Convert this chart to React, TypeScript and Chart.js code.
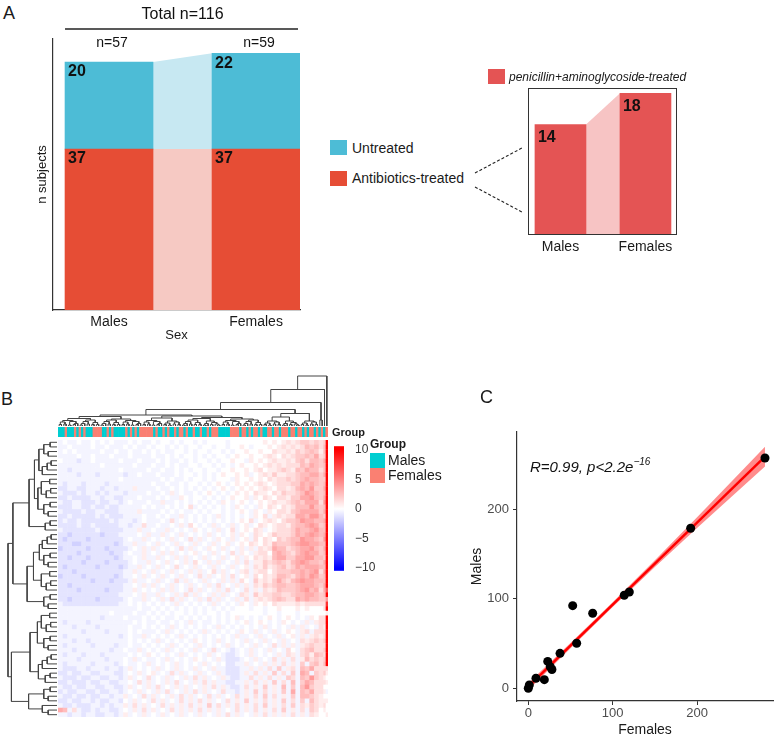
import React, { useEffect, useRef } from "react";
import { Chart, registerables } from "chart.js";
Chart.register(...registerables);

const FONT = "'Liberation Sans', Arial, Helvetica, sans-serif";
Chart.defaults.font.family = FONT;
Chart.defaults.color = "#1a1a1a";

/* ---------------- Panel A data ---------------- */
const sexes = ["Males", "Females"];
const untreated = [20, 22];
const antibioticsTreated = [37, 37];
const groupTotals = [57, 59];
const totalSubjects = 116;
const penicillinAminoglycoside = [14, 18];

/* ---------------- Panel C data ---------------- */
const femalesCounts = [0, 1.2, 9.1, 19, 23, 26, 28, 37.6, 52.6, 57.3, 76.3, 113.7, 119.7, 192.4, 280.5];
const malesCounts = [0, 3.7, 11.2, 9.6, 30, 24, 21, 39, 92.2, 50.2, 83.7, 103.8, 107.5, 178.6, 257];
const fitX = [0, 280.5];
const fitY = [1.8, 258.5];
const bandX = [0, 50, 100, 150, 200, 250, 280.5];
const bandLow = [-2.2, 44.6, 90.6, 135.3, 178.9, 221.6, 247.5];
const bandHigh = [5.8, 50.6, 96.0, 142.9, 190.9, 239.6, 269.5];
const axisTicksC = [0, 100, 200];

/* ---------------- Panel B data ---------------- */
// M = Males, F = Females, one letter per subject (column order of the heatmap)
const subjectGroups =
  "MMMFMMMFMF" + "MFMMMFFFFM" + "MFMFMMMMMF" + "MFMFMFFFFF" + "FMFMMFMFMM" + "FMFFMFMMFM" +
  "MFMMFMFFFM" + "MMMMFFFFMF" + "FMFMFFMFMM" + "FFMFFMFFFM" + "FFMFFMFMFF" + "MFMFMF";

// symbol -> value: a..e = negative, digits = positive, X = 10
const heatLevels: Record<string, number> = {
  e: -4, d: -3, c: -1.8, b: -1.05, a: -0.45, "0": 0,
  "1": 0.7, "2": 1.3, "3": 2, "4": 2.6, "5": 3.3, "6": 4, "7": 5, "8": 6.5, "9": 8, X: 10,
};

// 60 rows; each symbol covers two adjacent subjects (columns 1..114)
const heatRows = [
  "a0aa0aa0a0 a0aaa0a0aa 0a00a0a00a 0a0000a000 0000101012 1233232",
  "aa0aaaa0aa 0aaa0a0aa0 a00a0a0a00 a00a00a001 0a00010121 2124342",
  "a0a0aaaaa0 aa0aa0aa0a 0a0aa00a0a 00a00a0a00 1001002112 1323431",
  "aaaa0aa0aa a0aaa0aaaa 0aa0a0a00a 0a0a00a010 0100121021 2334352",
  "0aaabaa0aa aaa0aaa0aa a0a0aa0a0a 00a0a00100 a101012112 1342443",
  "aaaaaaaaa0 aaaaaa0aaa 0aa0a0aa00 a00a0a0a01 0010121212 2243543",
  "aabaaaaaaa aaa0aaaaa0 aa0aa0a0a0 0a00a00100 1012011232 1435442",
  "aaaabaaaba aaaabaa0aa a0aaa0a00a 0a0a010010 1a01213112 2344553",
  "aaaaaaaaaa aaa0aaaaaa aa0a0aa0a0 0a0a000a10 0101021223 2345443",
  "abaaabaaaa baaaaaaaaa 0aa0aa0a00 a0a010a010 1012101222 3354543",
  "bbaabbaaab aabaaa1aaa a0aa0a0a0a 0a0a010a01 0101210221 2454633",
  "abbbabaaba baaabaaaa0 aa0a1a0aa0 a010a0a010 1021102132 2346543",
  "bbabbbbaab aabbaaa0aa a0a0aa10a0 0a0a0a0100 1a10210221 3355643",
  "abbaabbbab baaba0aaa0 aa1aa0a0a0 a0a0a10a01 0a01012112 3435552",
  "bbbaabbabb abbaaaaa0a 0aa0a0a02a 0a0a0a0a10 a0a1021021 2444643",
  "abbbbabbaa bbbaaaa1aa aa0a0a0aa0 a0a00a0a01 0a10a10221 3455553",
  "bbabbbbbab abbbaaaa0a a0a0aa1a0a 0a0a1a0a0a 0a102a1212 2554664",
  "babbabbbbb babaaaba0a aa0a2a0a0a 0a0a0a0a01 02a0121023 3465544",
  "bbbbabbabb bbbaabaa2a a0aa0a1a20 a0a1a0a1a0 1a02101221 3445653",
  "abbbbbbbab bbbbaaa1aa 0aa1a0a0a1 0a0a1a02a0 1021a01222 3544564",
  "bbcbbbbbbc bbbaaaa0a1 aa1a0a1a0a 0a1a0a01a1 0a21013222 3545654",
  "bcbbbbcbbb bbbba0aa1a 0a0a1a0a2a 1a0a10a1a0 1a20210323 4465543",
  "bbbccbbbbb bbcbaa1aa0 a1a0a1a0a1 a0a1a01a01 0210214333 4566554",
  "cbbbbbcbbb cbbbba0a1a 1a0a0a2a1a 0a10a1a0a1 a1a2125442 3455643",
  "bbbbcbbbbb bcbba0aa1a 0a1a1a0a01 a0a1a0a2a1 0a12204543 2456553",
  "bbcbbbcbbb bbcbaa0a1a a1a0a1a1a0 a1a0a1a01a 1021214553 3556644",
  "bbbbbcbbbb cbbbba0aa1 a0a1a0a1a2 0a1a1a0a1a 2a11323432 4565443",
  "bcbbbbbbcb bbbcbaa1a0 a1a0a2a0a1 a0a1a0a1a0 1a21312342 3545554",
  "bbbcbbbbbb bbbbaa1a0a 1a0a1a0a1a 1a02a1a0a1 2a12202333 4454562",
  "cbbbbcbbbb bbcbaa0a1a 0a1a0a1a0a 2a1a01a2a0 1a20212443 2454653",
  "bbbbbbbcbb bcbbba1aa0 a1a0a2a1a0 a1a0a1a1a2 0a31213532 4565544",
  "bbcbbbbbbb bbbbaa0a1a 1a0a1a0a1a 0a1a2a0a1a 1a21323443 3455543",
  "bbbbcbbbbb cbbbaa1a0a 0a1a1a0a2a 1a0a1a2a0a 2a1a212433 3456452",
  "bbbbbbbbbb bbbaaa0a1a a1a0a1a2a1 a0a1a1a0a2 1a31223322 3445543",
  "bbcbbbbbcb bbbba0aa1a 0a1a2a1a0a 1a2a1a0a1a 2a12123432 2545443",
  "abbbbbbbbb bbbaa0a0a0 a0a0a1a0a0 a0a1a0a0a1 0a10102111 1212222",
  "aaaaaaaaaa aaaaaaa0aa 0a0a0a0a0a 0a0a0a0a00 0a00a00100 0101000",
  "aaaaaaaaaa a0aaaa0aa0 a0a0a00a0a 0a00a0a000 0000a00a00 0a00000",
  "aaaaaaaaab aaaa0aaa0a 0a0aa0a0a0 a0a0a0a01a 0a0a010a01 0a0a102",
  "abaaaabaaa aaaaaa0a0a a0aa0a0a1a 0aa0a0a0a0 1a010a0a10 a0a1a12",
  "aaabaaaaba aaaaa0aa0a 0a0a1a0a0a 0a0a1a0a0a 0a0a1a0a0a 1a1a0a2",
  "aaaaabaaaa baaaa0a0aa a0a1a0a0a0 a1a0a0a0a1 0a1a0a1a01 0a12a22",
  "abaaaaaaaa aaaba0aa1a 0a0a0a1a0a 0a0a0a0a1a a0a1a0a1a0 1a1a121",
  "aaabaabaaa aaaaa0a0a0 a1a0a0a0a1 0a0a1a0a0a 1a0a1a0a1a 0a21232",
  "abaaaaabaa aabaa0aa0a 0a0a1a0a0a 1a0a0a1a0a 0a1a0a2a1a 1a12322",
  "aaabaaaaaa abaa0aa1a0 a0a1a0a0a1 a0a2a0aba0 a1a0a1a0a2 0a23422",
  "abaaabaaab aaaaa0a0a1 0a0a0a1a0a 0a1a0abba0 a1a0a0a1a2 1a23143",
  "aaaabaaaaa baaa0a1a0a a0a1a0a0a1 0a0a1abbba 0a1a0a2a1a 2a14232",
  "abaaaaabaa aaba0aa0a1 a0a0a1a0a0 a1a0a0bbaa 1a0a1a1a2a 1a3a342",
  "abbbaabaaa baaba1a0a0 a1a0a1a0a1 a0a1aabbba a1a1a2a3a1 2a43522",
  "bbabbaabba aabba0a1a0 1a0a2a1a0a 1a0a1abbba 1a2a1a3a2a 3a54a32",
  "abbbabbaab baaba1a0a2 a0a1a0a1a2 a1a0a1abba a2a1a2a1a3 2a43632",
  "bbabbbabba abbaa0a2a1 a0a1a2a0a1 a2a1aabbaa 1a2a1a3a2a 4a35422",
  "abbabbaabb aabba1a0a1 a2a0a1a1a0 a1a2a1abba 2a1a3a1a4a 3a46322",
  "babbaabbab baaba0a1a0 a1a2a0a1a2 a1a0a2aaba 1a3a2a1a3a 5a43522",
  "abbabbabba abaa1a0a2a 1a0a1a2a1a 0a2a1a0a2a 1a2a3a2a1a 3a44321",
  "bbabbaabab baab0a1a0a 2a1a0a2a1a 2a1a0a2a1a 3a1a2a1a3a 2a3a421",
  "abbabbbaab abaa1a2a1a 0a2a1a1a2a 1a3a2a1a2a 1a2a3a1a2a 3a21321",
  "54a2abbaba abba0a1a2a 1a0a2a1a1a 2a1a1a0a2a 1a2a1a2a3a 1a2a320",
  "aabaabaabb aaba1a0a1a 0a1a0a1a0a 1a0a1a2a1a 0a1a2a1a1a 2a1a210",
];
// subject 115 and subject 116 (one symbol per row)
const heatCol115 = "3443544534 5456453544 5645435454 4554322022 1223232342 3120101210";
const heatCol116 = "XXXXXXXXXX XXXXXXXXXX XXXXXXXXXX XX8X69X1XX XXXXXXXXX2 1010a01001";
const colorbarTicks = [-10, -5, 0, 5, 10];

// dendrograms: (left,right)height ; x = leaf
const G9 = "(((x,x)3,(x,x)4)8,((x,x)2,((x,x)3,x)5)9)11";
const G9b = "((((x,x)2,x)5,(x,x)4)9,((x,x)3,(x,x)3)7)12";
const G8 = "(((x,x)3,(x,x)2)6,((x,x)4,(x,x)3)8)10";
const G8b = "(((x,x)2,x)5,((x,x)3,(x,(x,x)2)4)7)10";
const cA = `((${G9},${G9b})15,(${G9b},${G9})14)19`;
const cB = `((${G9},${G8})16,((${G9b},${G8b})15,(${G9},${G9b})14)17)20`;
const cC = `((${G8},${G8b})18,${G8})25`;
const columnTree = `(((((${cA},${cB})22,${cC})33,(x,x)12)47,x)73,x)100`;

const R4 = "((x,x)14,(x,x)18)27";
const R4b = "(((x,x)12,x)20,x)30";
const R5 = "((x,x)15,((x,x)13,x)22)32";
const R3 = "((x,x)14,x)24";
const rT1 = `(((${R4},${R4b})37,(${R5},${R4})39)46,${R3})57`;
const rT2 = `(((${R4b},${R4})36,${R5})48,${R4})61`;
const rB1 = `((${R5},${R4})40,(${R4b},${R3})38)55`;
const rB2 = `(${R4},(x,(x,x)18)30)58`;
const rowTree = `((${rT1},${rT2})90,(${rB1},${rB2})93)100`;

/* ---------------- colours ---------------- */
const C_ANTI = "#E64D35";
const C_UNTR = "#4DBCD6";
const C_ANTI_BAND = "#F6C9C3";
const C_UNTR_BAND = "#C7E8F2";
const C_PEN = "#E45454";
const C_PEN_BAND = "#F7C4C4";
const C_MALE = "#00CED1";
const C_FEMALE = "#FA8072";

/* ---------------- helpers ---------------- */
const clean = (s: string) => s.replace(/\s+/g, "");

function heatColor(v: number) {
  const t = Math.min(1, Math.abs(v) / 10);
  const c = Math.round(255 * (1 - t));
  return v < 0 ? `rgb(${c},${c},255)` : `rgb(255,${c},${c})`;
}

type TNode = { pos: number; h: number };
function parseTree(src: string) {
  const s = clean(src);
  let i = 0;
  let leaf = 0;
  const links: { a: TNode; b: TNode; h: number }[] = [];
  function node(depth: number): TNode {
    if (i >= s.length || depth > 200) return { pos: leaf + 0.5, h: 0 };
    if (s[i] === "x") {
      i++;
      return { pos: leaf++ + 0.5, h: 0 };
    }
    i++;
    const a = node(depth + 1);
    i++;
    const b = node(depth + 1);
    i++;
    let num = "";
    while (i < s.length && /[0-9.]/.test(s[i])) num += s[i++];
    const h = (parseFloat(num) || 0) / 100;
    links.push({ a, b, h });
    return { pos: (a.pos + b.pos) / 2, h };
  }
  node(0);
  return { links, leaves: leaf };
}

function dendroDatasets(src: string, horizontalLeaves: boolean) {
  const { links } = parseTree(src);
  return links.map((l) => {
    const pts = [
      [l.a.pos, l.a.h],
      [l.a.pos, l.h],
      [l.b.pos, l.h],
      [l.b.pos, l.b.h],
    ];
    return {
      type: "line",
      data: pts.map(([p, h]) => (horizontalLeaves ? { x: p, y: h } : { x: h, y: p })),
      borderColor: "#444",
      borderWidth: 1,
      pointRadius: 0,
      showLine: true,
      fill: false,
      tension: 0,
      clip: false,
    };
  });
}

const common = {
  animation: false,
  responsive: false,
  devicePixelRatio: 1,
  events: [],
};
const noPlugins = { legend: { display: false }, tooltip: { enabled: false } };

const bandsPlugin = {
  id: "bands",
  beforeDatasetsDraw(chart: any) {
    const ctx = chart.ctx;
    chart.data.datasets.forEach((ds: any, d: number) => {
      const bars = chart.getDatasetMeta(d).data as any[];
      ctx.save();
      ctx.fillStyle = ds.bandColor;
      for (let i = 0; i + 1 < bars.length; i++) {
        const a = bars[i];
        const b = bars[i + 1];
        const ax = a.x + a.width / 2;
        const bx = b.x - b.width / 2;
        ctx.beginPath();
        ctx.moveTo(ax, a.y);
        ctx.lineTo(bx, b.y);
        ctx.lineTo(bx, b.base);
        ctx.lineTo(ax, a.base);
        ctx.closePath();
        ctx.fill();
      }
      ctx.restore();
    });
  },
};

const valueLabelsPlugin = {
  id: "valueLabels",
  afterDatasetsDraw(chart: any) {
    const ctx = chart.ctx;
    const off = chart.options.plugins.valueLabels?.offset ?? 9;
    ctx.save();
    ctx.fillStyle = "#111";
    ctx.font = `bold 16px ${FONT}`;
    ctx.textBaseline = "middle";
    ctx.textAlign = "left";
    chart.data.datasets.forEach((ds: any, d: number) => {
      const bars = chart.getDatasetMeta(d).data as any[];
      bars.forEach((b, i) => {
        const top = Math.min(b.y, b.base);
        ctx.fillText(String(ds.data[i].y), b.x - b.width / 2 + 3, top + off);
      });
    });
    ctx.restore();
  },
};

const totalsPlugin = {
  id: "totals",
  afterDraw(chart: any) {
    const ctx = chart.ctx;
    const bars = chart.getDatasetMeta(0).data as any[];
    const top = chart.chartArea.top;
    ctx.save();
    ctx.fillStyle = "#111";
    ctx.textAlign = "center";
    ctx.textBaseline = "middle";
    ctx.font = `14px ${FONT}`;
    bars.forEach((b, i) => ctx.fillText(`n=${groupTotals[i]}`, b.x + 3, top + 4));
    const x0 = bars[0].x - bars[0].width / 2;
    const x1 = bars[bars.length - 1].x + bars[bars.length - 1].width / 2;
    ctx.font = `16px ${FONT}`;
    ctx.fillText(`Total n=${totalSubjects}`, (x0 + x1) / 2, top - 24);
    ctx.strokeStyle = "#222";
    ctx.lineWidth = 1.3;
    ctx.beginPath();
    ctx.moveTo(x0, top - 10);
    ctx.lineTo(x1 - 2, top - 10);
    ctx.stroke();
    ctx.restore();
  },
};

const boxPlugin = {
  id: "box",
  afterDraw(chart: any) {
    const { left, top, right, bottom } = chart.chartArea;
    const ctx = chart.ctx;
    ctx.save();
    ctx.strokeStyle = "#333";
    ctx.lineWidth = 1;
    ctx.strokeRect(left + 0.5, top + 0.5, right - left - 1, bottom - top);
    ctx.restore();
  },
};

const heatmapPlugin = {
  id: "heatmap",
  beforeDatasetsDraw(chart: any) {
    const ctx = chart.ctx;
    const xs = chart.scales.x;
    const ys = chart.scales.y;
    const c115 = clean(heatCol115);
    const c116 = clean(heatCol116);
    const cell = (c0: number, c1: number, r: number, ch: string) => {
      const v = heatLevels[ch] ?? 0;
      const x0 = xs.getPixelForValue(c0);
      const x1 = xs.getPixelForValue(c1);
      const y0 = ys.getPixelForValue(r);
      const y1 = ys.getPixelForValue(r + 1);
      ctx.fillStyle = heatColor(v);
      ctx.fillRect(x0, y0, x1 - x0 + 0.5, y1 - y0 + 0.5);
    };
    ctx.save();
    heatRows.forEach((row, r) => {
      const cells = clean(row);
      for (let k = 0; k < 57; k++) cell(2 * k, 2 * k + 2, r, cells[k] ?? "0");
      cell(114, 115, r, c115[r] ?? "0");
      cell(115, 116, r, c116[r] ?? "0");
    });
    ctx.restore();
  },
};

const colorbarPlugin = {
  id: "colorbar",
  beforeDatasetsDraw(chart: any) {
    const ctx = chart.ctx;
    const { left, right, top, bottom } = chart.chartArea;
    const ys = chart.scales.y;
    const g = ctx.createLinearGradient(0, bottom, 0, top);
    [ys.min, -10, 0, 10, ys.max].forEach((v: number) => {
      const p = (ys.getPixelForValue(v) - bottom) / (top - bottom);
      g.addColorStop(Math.max(0, Math.min(1, p)), heatColor(v));
    });
    ctx.save();
    ctx.fillStyle = g;
    ctx.fillRect(left, top, right - left, bottom - top);
    ctx.restore();
  },
};

/* ---------------- chart configs ---------------- */
function configA() {
  return {
    type: "bar",
    data: {
      datasets: [
        {
          label: "Antibiotics-treated",
          data: sexes.map((_, i) => ({ x: i + 1, y: antibioticsTreated[i] })),
          backgroundColor: C_ANTI,
          bandColor: C_ANTI_BAND,
          barThickness: 88,
        },
        {
          label: "Untreated",
          data: sexes.map((_, i) => ({ x: i + 1, y: untreated[i] })),
          backgroundColor: C_UNTR,
          bandColor: C_UNTR_BAND,
          barThickness: 88,
        },
      ],
    },
    options: {
      ...common,
      layout: { padding: { top: 39, right: 20, left: 0, bottom: 0 } },
      plugins: { ...noPlugins, valueLabels: { offset: 10 } },
      scales: {
        x: {
          type: "linear",
          stacked: true,
          offset: false,
          min: 0.619,
          max: 2.299,
          grid: { display: false, drawTicks: false, tickLength: 0, offset: false },
          border: { display: true, color: "#333", width: 1.2 },
          afterBuildTicks: (s: any) => {
            s.ticks = sexes.map((_, i) => ({ value: i + 1 }));
          },
          ticks: {
            callback: (_v: any, i: number) => sexes[i],
            font: { size: 14 },
            color: "#1a1a1a",
            padding: 4,
            maxRotation: 0,
            autoSkip: false,
          },
          title: { display: true, text: "Sex", font: { size: 13 }, color: "#1a1a1a", padding: { top: 0, bottom: 2 } },
          afterFit: (s: any) => {
            s.height = 35;
          },
        },
        y: {
          stacked: true,
          min: 0,
          max: 62.3,
          grid: { display: false, drawTicks: false },
          ticks: { display: false },
          border: { display: true, color: "#333", width: 1.2 },
          title: { display: true, text: "n subjects", font: { size: 13 }, color: "#1a1a1a", padding: { top: 35, bottom: 0 } },
          afterFit: (s: any) => {
            s.width = 53;
          },
        },
      },
    },
    plugins: [bandsPlugin, valueLabelsPlugin, totalsPlugin],
  };
}

function configInset() {
  return {
    type: "bar",
    data: {
      datasets: [
        {
          label: "penicillin+aminoglycoside-treated",
          data: sexes.map((_, i) => ({ x: i + 1, y: penicillinAminoglycoside[i] })),
          backgroundColor: C_PEN,
          bandColor: C_PEN_BAND,
          barThickness: 51,
        },
      ],
    },
    options: {
      ...common,
      layout: { padding: { top: 18, right: 23, left: 28, bottom: 0 } },
      plugins: { ...noPlugins, valueLabels: { offset: 13 } },
      scales: {
        x: {
          type: "linear",
          offset: false,
          min: 0.618,
          max: 2.371,
          grid: { display: false, drawTicks: false, tickLength: 0, offset: false },
          border: { display: false },
          afterBuildTicks: (s: any) => {
            s.ticks = sexes.map((_, i) => ({ value: i + 1 }));
          },
          ticks: {
            callback: (_v: any, i: number) => sexes[i],
            font: { size: 14 },
            color: "#1a1a1a",
            padding: 5,
            maxRotation: 0,
            autoSkip: false,
          },
          afterFit: (s: any) => {
            s.height = 26;
          },
        },
        y: { display: false, min: 0, max: 18.68 },
      },
    },
    plugins: [bandsPlugin, valueLabelsPlugin, boxPlugin],
  };
}

function configColumnDendro() {
  return {
    type: "scatter",
    data: { datasets: dendroDatasets(columnTree, true) },
    options: {
      ...common,
      layout: { padding: { top: 3, bottom: 1, left: 0, right: 0 } },
      plugins: noPlugins,
      scales: {
        x: { display: false, type: "linear", min: 0, max: subjectGroups.length },
        y: { display: false, type: "linear", min: 0, max: 1 },
      },
    },
  };
}

function configRowDendro() {
  return {
    type: "scatter",
    data: { datasets: dendroDatasets(rowTree, false) },
    options: {
      ...common,
      layout: { padding: { top: 3, bottom: 3, left: 4, right: 3 } },
      plugins: noPlugins,
      scales: {
        x: { display: false, type: "linear", min: 0, max: 1, reverse: true },
        y: { display: false, type: "linear", min: 0, max: heatRows.length, reverse: true },
      },
    },
  };
}

function configAnnotation() {
  const groups = subjectGroups.split("");
  return {
    type: "bar",
    data: {
      labels: groups.map((_, i) => `S${i + 1}`),
      datasets: [
        {
          label: "Group",
          data: groups.map(() => 1),
          backgroundColor: groups.map((g) => (g === "M" ? C_MALE : C_FEMALE)),
          barPercentage: 1,
          categoryPercentage: 1,
          borderWidth: 0,
        },
      ],
    },
    options: {
      ...common,
      plugins: noPlugins,
      scales: {
        x: { display: false },
        y: { display: false, min: 0, max: 1 },
      },
    },
  };
}

function configHeatmap() {
  return {
    type: "scatter",
    data: { datasets: [] },
    options: {
      ...common,
      plugins: noPlugins,
      scales: {
        x: { display: false, type: "linear", min: 0, max: subjectGroups.length },
        y: { display: false, type: "linear", min: 0, max: heatRows.length, reverse: true },
      },
    },
    plugins: [heatmapPlugin],
  };
}

function configColorbar() {
  return {
    type: "scatter",
    data: { datasets: [] },
    options: {
      ...common,
      layout: { padding: { top: 4, bottom: 4, left: 0, right: 0 } },
      plugins: noPlugins,
      scales: {
        x: { display: false, type: "linear", min: 0, max: 1 },
        y: {
          position: "right",
          type: "linear",
          min: -10.46,
          max: 10.6,
          grid: { display: false },
          border: { display: false },
          afterBuildTicks: (s: any) => {
            s.ticks = colorbarTicks.map((v) => ({ value: v }));
          },
          ticks: {
            callback: (v: any) => String(v).replace("-", "\u2212"),
            font: { size: 12 },
            color: "#333",
            padding: 3,
          },
          afterFit: (s: any) => {
            s.width = 40;
          },
        },
      },
    },
    plugins: [colorbarPlugin],
  };
}

function configScatter() {
  return {
    type: "scatter",
    data: {
      datasets: [
        {
          label: "subjects",
          data: femalesCounts.map((x, i) => ({ x, y: malesCounts[i] })),
          backgroundColor: "#000",
          borderWidth: 0,
          pointRadius: 4.5,
          order: 0,
        },
        {
          type: "line",
          label: "fit",
          data: fitX.map((x, i) => ({ x, y: fitY[i] })),
          borderColor: "#FF0000",
          borderWidth: 2.5,
          pointRadius: 0,
          showLine: true,
          fill: false,
          order: 1,
        },
        {
          type: "line",
          label: "ci-high",
          data: bandX.map((x, i) => ({ x, y: bandHigh[i] })),
          borderWidth: 0,
          borderColor: "rgba(0,0,0,0)",
          backgroundColor: "rgba(255,0,0,0.45)",
          pointRadius: 0,
          showLine: true,
          fill: "+1",
          order: 2,
        },
        {
          type: "line",
          label: "ci-low",
          data: bandX.map((x, i) => ({ x, y: bandLow[i] })),
          borderWidth: 0,
          borderColor: "rgba(0,0,0,0)",
          pointRadius: 0,
          showLine: true,
          fill: false,
          order: 2,
        },
      ],
    },
    options: {
      ...common,
      layout: { padding: { top: 52, right: 5, left: 0, bottom: 0 } },
      plugins: noPlugins,
      scales: {
        x: {
          type: "linear",
          min: -13.4,
          max: 290,
          afterBuildTicks: (s: any) => {
            s.ticks = axisTicksC.map((v) => ({ value: v }));
          },
          grid: { display: true, drawOnChartArea: false, drawTicks: true, tickLength: 4, color: "#333" },
          border: { display: true, color: "#333", width: 1.2 },
          ticks: { font: { size: 13 }, color: "#4d4d4d", padding: 1 },
          title: { display: true, text: "Females", font: { size: 14 }, color: "#1a1a1a", padding: { top: 0, bottom: 2 } },
          afterFit: (s: any) => {
            s.height = 40;
          },
        },
        y: {
          type: "linear",
          min: -14.2,
          max: 286,
          afterBuildTicks: (s: any) => {
            s.ticks = axisTicksC.map((v) => ({ value: v }));
          },
          grid: { display: true, drawOnChartArea: false, drawTicks: true, tickLength: 4, color: "#333" },
          border: { display: true, color: "#333", width: 1.2 },
          ticks: { font: { size: 13 }, color: "#4d4d4d", padding: 4 },
          title: { display: true, text: "Males", font: { size: 14 }, color: "#1a1a1a", padding: { top: 29, bottom: 0 } },
          afterFit: (s: any) => {
            s.width = 77;
          },
        },
      },
    },
  };
}

/* ---------------- components ---------------- */
function ChartCanvas(props: { left: number; top: number; width: number; height: number; make: () => any }) {
  const ref = useRef<HTMLCanvasElement>(null);
  useEffect(() => {
    const chart = new Chart(ref.current as HTMLCanvasElement, props.make() as any);
    return () => chart.destroy();
  }, []);
  const { left, top, width, height } = props;
  return (
    <canvas
      ref={ref}
      width={width}
      height={height}
      style={{ position: "absolute", left, top, width, height }}
    />
  );
}

const abs = (left: number, top: number, extra: React.CSSProperties = {}): React.CSSProperties => ({
  position: "absolute",
  left,
  top,
  whiteSpace: "nowrap",
  ...extra,
});

export default function App() {
  return (
    <div
      style={{
        position: "absolute",
        left: 0,
        top: 0,
        width: 778,
        height: 741,
        background: "#fff",
        fontFamily: FONT,
        color: "#1a1a1a",
        overflow: "hidden",
      }}
    >
      {/* Panel A */}
      <div style={abs(3, 4, { fontSize: 18, lineHeight: "18px" })}>A</div>
      <ChartCanvas left={0} top={0} width={320} height={345} make={configA} />

      <div style={abs(330, 140, { width: 17, height: 15, background: C_UNTR })} />
      <div style={abs(352, 140, { fontSize: 14, lineHeight: "17px" })}>Untreated</div>
      <div style={abs(330, 171, { width: 17, height: 15, background: C_ANTI })} />
      <div style={abs(352, 170, { fontSize: 14, lineHeight: "17px" })}>Antibiotics-treated</div>

      <svg style={abs(0, 0)} width={778} height={345}>
        <line x1={475} y1={173} x2={522} y2={148} stroke="#222" strokeWidth={1.1} strokeDasharray="3,2" />
        <line x1={475} y1={187} x2={522} y2={212} stroke="#222" strokeWidth={1.1} strokeDasharray="3,2" />
      </svg>

      <div style={abs(488, 69, { width: 17, height: 15, background: C_PEN })} />
      <div style={abs(509, 69, { fontSize: 12, lineHeight: "16px", fontStyle: "italic" })}>
        penicillin+aminoglycoside-treated
      </div>
      <ChartCanvas left={500} top={70} width={200} height={190} make={configInset} />

      {/* Panel B */}
      <div style={abs(1, 390, { fontSize: 18, lineHeight: "18px" })}>B</div>
      <ChartCanvas left={58} top={373} width={270} height={54} make={configColumnDendro} />
      <ChartCanvas left={58} top={427} width={270} height={10} make={configAnnotation} />
      <ChartCanvas left={58} top={440} width={270} height={277} make={configHeatmap} />
      <ChartCanvas left={4} top={437} width={56} height={283} make={configRowDendro} />
      <ChartCanvas left={334} top={436} width={50} height={145} make={configColorbar} />
      <div style={abs(332, 425, { fontSize: 11, lineHeight: "14px", fontWeight: "bold" })}>Group</div>

      <div style={abs(370, 437, { fontSize: 12, lineHeight: "14px", fontWeight: "bold" })}>Group</div>
      <div style={abs(370, 453, { width: 15, height: 15, background: C_MALE })} />
      <div style={abs(370, 468, { width: 15, height: 15, background: C_FEMALE })} />
      <div style={abs(388, 452, { fontSize: 14, lineHeight: "17px" })}>Males</div>
      <div style={abs(388, 467, { fontSize: 14, lineHeight: "17px" })}>Females</div>

      {/* Panel C */}
      <div style={abs(480, 388, { fontSize: 18, lineHeight: "18px" })}>C</div>
      <ChartCanvas left={440} top={380} width={338} height={361} make={configScatter} />
      <div style={abs(530, 458, { fontSize: 15, lineHeight: "17px", fontStyle: "italic", color: "#111" })}>
        R=0.99, p&lt;2.2e
        <span style={{ fontSize: 10, position: "relative", top: -7 }}>{"\u221216"}</span>
      </div>
    </div>
  );
}
